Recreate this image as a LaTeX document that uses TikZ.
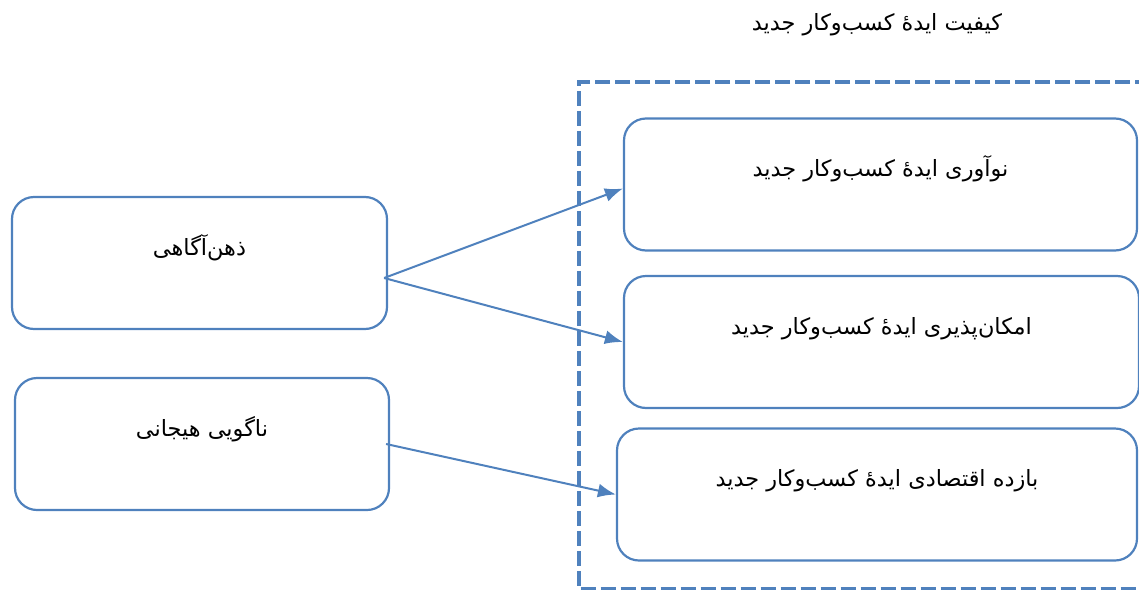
\documentclass[tikz,border=0pt]{standalone}
\usepackage{fontspec}
\usepackage{xcolor}
\usepackage{tikz}
\usetikzlibrary{arrows.meta, positioning}
\TeXXeTstate=1
\newfontfamily\arabicfont[Script=Arabic]{DejaVu Sans}
\definecolor{wordblue}{HTML}{4F81BD}
\newcommand{\fa}[1]{{\arabicfont\beginR #1\endR}}

\begin{document}
\begin{tikzpicture}[x=0.5pt, y=-0.5pt,
    font=\fontsize{11.2}{13}\selectfont,
    box/.style={rectangle, draw=wordblue, line width=1.1pt, rounded corners=11pt, text height=8pt, text depth=16pt, minimum height=66pt},
    arrow/.style={draw=wordblue, line width=1pt, -{Latex[length=9pt,width=7pt]}},
    frame/.style={draw=wordblue, line width=2.4pt, dash pattern=on 7.5pt off 2.5pt}]

    \useasboundingbox (0,0) rectangle (1139,589);

    % dashed group
    \draw [frame] (1170,82) -- (579,82) -- (579,589.5) -- (1170,589.5);
    \node (quality) at (877,25) {\fa{کیفیت ایده^^^^0654 کسب^^^^200cوکار جدید}};

    % left column
    \node [box, minimum width=187.5pt] (zehn) at (199.5,263) {\fa{ذهن^^^^200cآگاهی}};
    \node [box, minimum width=187pt] (nagooyi) at (202,444) {\fa{ناگویی هیجانی}};

    % right column
    \node [box, minimum width=256.5pt] (noavari) at (880.5,184.5) {\fa{نوآوری ایده^^^^0654 کسب^^^^200cوکار جدید}};
    \node [box, minimum width=257.5pt] (emkan) at (881.5,342) {\fa{امکان^^^^200cپذیری ایده^^^^0654 کسب^^^^200cوکار جدید}};
    \node [box, minimum width=260pt] (bazdeh) at (877,494.5) {\fa{بازده اقتصادی ایده^^^^0654 کسب^^^^200cوکار جدید}};

    \draw [arrow] ([shift={(-4,15)}]zehn.east) -- ([yshift=-2pt]noavari.west);
    \draw [arrow] ([shift={(-4,15)}]zehn.east) -- (emkan.west);
    \draw [arrow] ([xshift=-2pt]nagooyi.east) -- (bazdeh.west);
\end{tikzpicture}
\end{document}
